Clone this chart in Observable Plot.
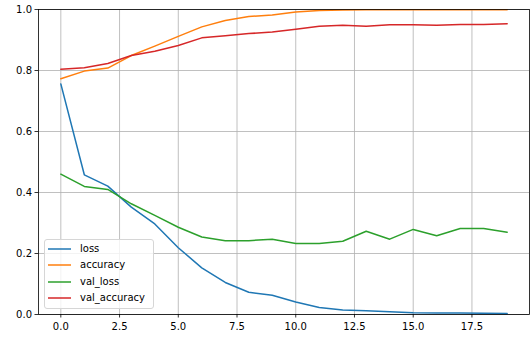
<!DOCTYPE html>
<html>
<head>
<meta charset="utf-8">
<script src="https://cdn.jsdelivr.net/npm/d3@7"></script>
<script src="https://cdn.jsdelivr.net/npm/@observablehq/plot@0.6"></script>
<style>
  html, body { margin: 0; padding: 0; background: #fff; }
  #wrap { position: relative; width: 531px; height: 342px; font-family: "DejaVu Sans", sans-serif; }
  #legend { position: absolute; left: 44px; top: 239px; width: 110px; height: 70px; border: 1px solid #d6d6d6; border-radius: 3px; background: rgba(255,255,255,0.8); box-sizing: border-box; font-size: 10px; color: #000; }
  .row { position: absolute; left: 0; height: 14px; }
  .row svg { position: absolute; left: 3px; top: 0; }
  .row span { position: absolute; left: 35px; top: 0; line-height: 14px; white-space: nowrap; }
</style>
</head>
<body>
<div id="wrap"><div id="chart"></div><div id="legend"></div></div>
<script>
const epochs = [0,1,2,3,4,5,6,7,8,9,10,11,12,13,14,15,16,17,18,19];
const loss = [0.756,0.458,0.421,0.352,0.297,0.219,0.153,0.105,0.073,0.063,0.041,0.023,0.015,0.012,0.009,0.006,0.005,0.005,0.004,0.003];
const accuracy = [0.773,0.798,0.808,0.849,0.880,0.912,0.943,0.964,0.977,0.982,0.992,0.997,0.998,0.999,0.999,0.999,0.999,0.999,0.999,0.999];
const val_loss = [0.460,0.420,0.410,0.363,0.325,0.286,0.254,0.242,0.242,0.247,0.233,0.233,0.240,0.273,0.247,0.279,0.258,0.282,0.282,0.270];
const val_accuracy = [0.804,0.809,0.823,0.849,0.863,0.882,0.907,0.914,0.921,0.926,0.935,0.945,0.948,0.945,0.950,0.950,0.948,0.951,0.951,0.953];
const seriesNames = ["loss","accuracy","val_loss","val_accuracy"];
const seriesColors = ["#1f77b4","#ff7f0e","#2ca02c","#d62728"];
const xTicks = [0,2.5,5,7.5,10,12.5,15,17.5];
const yTicks = [0,0.2,0.4,0.6,0.8,1.0];

const seriesValues = [loss, accuracy, val_loss, val_accuracy];
const data = [];
seriesNames.forEach((name, i) => {
  epochs.forEach((e, j) => data.push({series: name, epoch: e, value: seriesValues[i][j]}));
});

const chart = Plot.plot({
  width: 531,
  height: 342,
  marginLeft: 38,
  marginRight: 2,
  marginTop: 9,
  marginBottom: 28,
  style: {fontFamily: "DejaVu Sans, sans-serif", fontSize: "10px", background: "#fff", color: "#000"},
  x: {domain: [-0.95, 19.95], label: null},
  y: {domain: [0, 1], label: null},
  color: {domain: seriesNames, range: seriesColors},
  marks: [
    Plot.gridX(xTicks, {stroke: "#b0b0b0", strokeOpacity: 1, strokeWidth: 0.8}),
    Plot.gridY(yTicks, {stroke: "#b0b0b0", strokeOpacity: 1, strokeWidth: 0.8}),
    Plot.line(data, {x: "epoch", y: "value", z: "series", stroke: "series", strokeWidth: 1.5}),
    Plot.frame({stroke: "#000", strokeWidth: 0.8}),
    Plot.axisX(xTicks, {tickSize: 3.5, tickPadding: 5, tickFormat: d => d.toFixed(1), fontSize: 10, label: null, strokeWidth: 0.8}),
    Plot.axisY(yTicks, {tickSize: 3.5, tickPadding: 3, tickFormat: d => d.toFixed(1), fontSize: 10, label: null, strokeWidth: 0.8})
  ]
});
document.getElementById("chart").appendChild(chart);

const legend = document.getElementById("legend");
seriesNames.forEach((name, i) => {
  const row = document.createElement("div");
  row.className = "row";
  row.style.top = (1.5 + i * 16.5) + "px";
  row.innerHTML = `<svg width="24" height="14"><line x1="0" x2="23" y1="7" y2="7" stroke="${seriesColors[i]}" stroke-width="1.5"/></svg><span>${name}</span>`;
  legend.appendChild(row);
});
</script>
</body>
</html>
